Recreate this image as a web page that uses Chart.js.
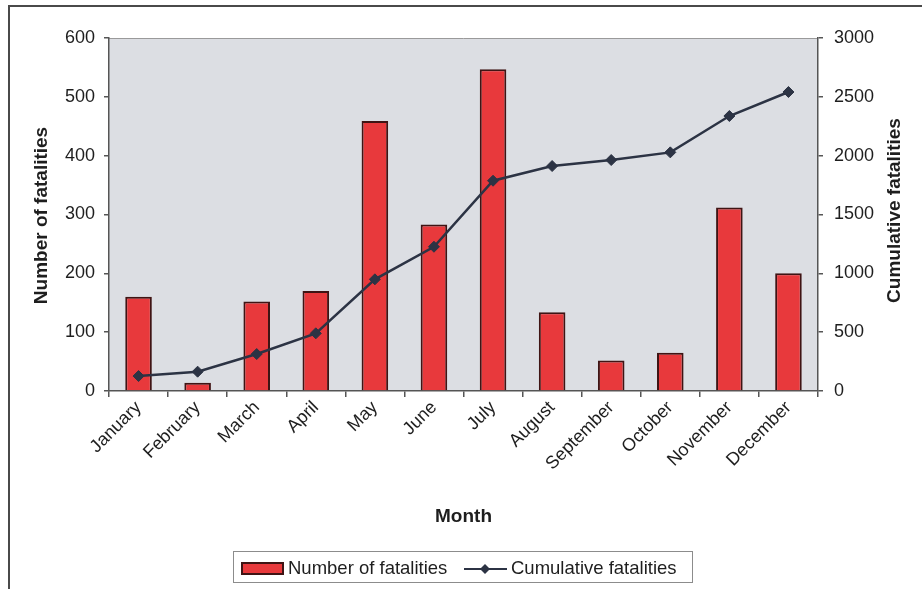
<!DOCTYPE html>
<html>
<head>
<meta charset="utf-8">
<title>Fatalities by month</title>
<script src="https://cdn.jsdelivr.net/npm/chart.js@4.4.1/dist/chart.umd.min.js"></script>
<style>
  html, body { margin: 0; padding: 0; background: #fff; overflow: hidden; }
  #wrap { width: 922px; height: 589px; position: relative; }
</style>
</head>
<body>
<div id="wrap"><canvas id="chart"></canvas></div>
<script>
// monthly figures
const months = ['January', 'February', 'March', 'April', 'May', 'June', 'July',
    'August', 'September', 'October', 'November', 'December'];
const fatalities = [160, 14, 152, 170, 459, 283, 547, 134, 52, 65, 312, 200];
const cumulative = [127, 164, 314, 490, 949, 1226, 1787, 1912, 1963, 2028, 2337, 2541];

const leftTicks = [0, 100, 200, 300, 400, 500, 600];
const rightTicks = [0, 500, 1000, 1500, 2000, 2500, 3000];

const barFill = '#e8393c',
    barEdge = '#3f1414',
    lineCol = '#2c3344',
    textCol = '#1e1e1e',
    axisCol = '#555';

const FONT = "'Liberation Sans', Arial, sans-serif";

// frame, plot background, axis titles and the boxed legend
const decor = {
    id: 'decor',
    beforeDraw: function(chart) {
        const ctx = chart.ctx, a = chart.chartArea;
        ctx.save();
        ctx.fillStyle = '#dcdee3';
        ctx.fillRect(a.left, a.top, a.right - a.left, a.bottom - a.top);
        ctx.strokeStyle = '#9a9a9a';
        ctx.lineWidth = 1;
        ctx.beginPath();
        ctx.moveTo(a.left, a.top + 0.5);
        ctx.lineTo(a.right, a.top + 0.5);
        ctx.stroke();
        // outer frame
        ctx.strokeStyle = '#4a4a4a';
        ctx.lineWidth = 2;
        ctx.beginPath();
        ctx.moveTo(9, 589);
        ctx.lineTo(9, 6);
        ctx.lineTo(922, 6);
        ctx.stroke();
        ctx.restore();
    },
    afterDraw: function(chart) {
        const ctx = chart.ctx, a = chart.chartArea;
        const midY = (a.top + a.bottom) / 2;
        const bars = chart.data.datasets.find(d => d.label === 'Number of fatalities');
        const line = chart.data.datasets.find(d => d.label === 'Cumulative fatalities');
        ctx.save();
        ctx.fillStyle = textCol;
        ctx.font = 'bold 19px ' + FONT;
        ctx.textAlign = 'center';
        ctx.textBaseline = 'middle';

        ctx.save();
        ctx.translate(42, midY + 1);
        ctx.rotate(-Math.PI / 2);
        ctx.fillText('Number of fatalities', 0, 0);
        ctx.restore();

        ctx.save();
        ctx.translate(895, midY - 4);
        ctx.rotate(-Math.PI / 2);
        ctx.fillText('Cumulative fatalities', 0, 0);
        ctx.restore();

        ctx.fillText('Month', (a.left + a.right) / 2, 517);

        // legend
        ctx.strokeStyle = '#8c8c8c';
        ctx.lineWidth = 1;
        ctx.strokeRect(233.5, 551.5, 459, 31);

        ctx.fillStyle = bars.backgroundColor;
        ctx.fillRect(242, 563, 41, 11);
        ctx.strokeStyle = bars.borderColor;
        ctx.lineWidth = 2;
        ctx.strokeRect(242, 563, 41, 11);

        ctx.strokeStyle = line.borderColor;
        ctx.lineWidth = 2;
        ctx.beginPath();
        ctx.moveTo(464, 569);
        ctx.lineTo(507, 569);
        ctx.stroke();
        ctx.fillStyle = line.pointBackgroundColor;
        ctx.beginPath();
        ctx.moveTo(485, 564);
        ctx.lineTo(490, 569);
        ctx.lineTo(485, 574);
        ctx.lineTo(480, 569);
        ctx.closePath();
        ctx.fill();

        ctx.fillStyle = textCol;
        ctx.font = '18.5px ' + FONT;
        ctx.textAlign = 'left';
        ctx.fillText('Number of fatalities', 288, 569);
        ctx.fillText('Cumulative fatalities', 511, 569);
        ctx.restore();
    }
};

const axisGrid = {
    drawOnChartArea: false,
    drawTicks: true,
    tickLength: 5,
    color: axisCol,
    lineWidth: 1.5
};

const plainNum = v => String(v);

const makeChart = function() {
    const ctx = document.getElementById('chart').getContext('2d');
    return new Chart(ctx, {
        type: 'bar',
        data: {
            labels: months,
            datasets: [{
                type: 'line',
                label: 'Cumulative fatalities',
                data: cumulative,
                yAxisID: 'y1',
                borderColor: lineCol,
                borderWidth: 2.5,
                pointStyle: 'rectRot',
                pointRadius: 5.5,
                pointBackgroundColor: lineCol,
                pointBorderColor: lineCol,
                pointBorderWidth: 1,
                tension: 0,
                order: 0
            }, {
                label: 'Number of fatalities',
                data: fatalities,
                yAxisID: 'y',
                backgroundColor: barFill,
                borderColor: barEdge,
                borderWidth: 2,
                categoryPercentage: 1,
                barPercentage: 0.45,
                order: 1
            }]
        },
        options: {
            responsive: true,
            maintainAspectRatio: false,
            animation: false,
            layout: { padding: { top: 38, left: 0, right: 0, bottom: 0 } },
            plugins: {
                legend: { display: false },
                tooltip: { enabled: false }
            },
            scales: {
                x: {
                    grid: Object.assign({}, axisGrid, { offset: true, tickLength: 6 }),
                    border: { color: axisCol, width: 1.5 },
                    ticks: {
                        color: textCol,
                        font: { family: FONT, size: 18 },
                        maxRotation: 45,
                        minRotation: 45,
                        padding: 0,
                        autoSkip: false
                    },
                    afterFit: function(s) { s.height = 198; }
                },
                y: {
                    position: 'left',
                    min: 0,
                    max: 600,
                    afterBuildTicks: function(s) { s.ticks = leftTicks.map(v => ({ value: v })); },
                    grid: axisGrid,
                    border: { color: axisCol, width: 1.5 },
                    ticks: { color: textCol, font: { family: FONT, size: 18 }, padding: 9, callback: plainNum },
                    afterFit: function(s) { s.width = 109; }
                },
                y1: {
                    position: 'right',
                    min: 0,
                    max: 3000,
                    afterBuildTicks: function(s) { s.ticks = rightTicks.map(v => ({ value: v })); },
                    grid: axisGrid,
                    border: { color: axisCol, width: 1.5 },
                    ticks: { color: textCol, font: { family: FONT, size: 18 }, padding: 11, callback: plainNum },
                    afterFit: function(s) { s.width = 104; }
                }
            }
        },
        plugins: [decor]
    });
};

makeChart();
</script>
</body>
</html>
